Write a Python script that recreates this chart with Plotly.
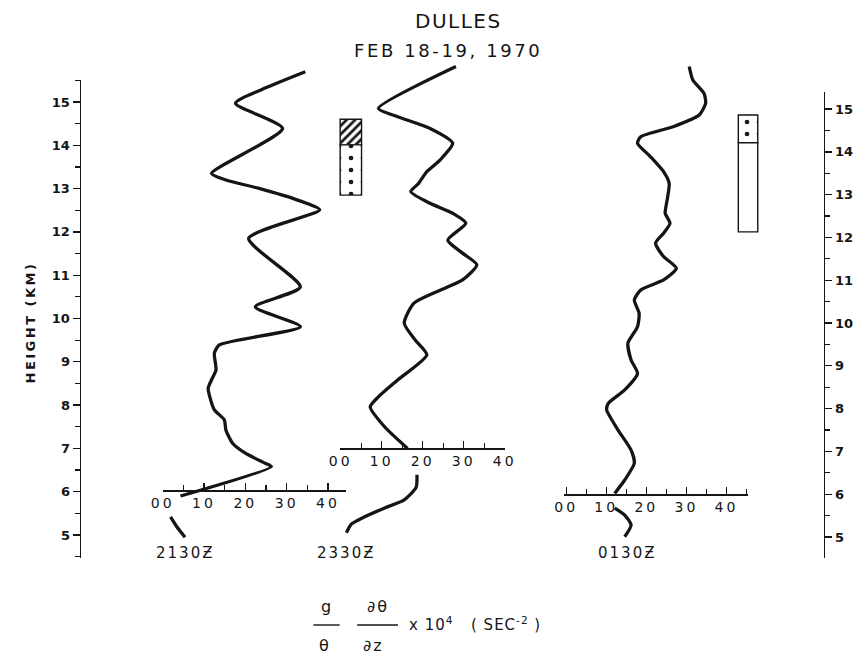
import plotly.graph_objects as go

W, H = 867, 659

# Brunt-Vaisala profiles g/theta * dtheta/dz (x 1e-4 s^-2) against height (km), top to bottom
h_2130 = [15.70, 15.35, 14.97, 14.39, 13.35, 13.20, 13.01, 12.74, 12.51, 11.85, 10.73, 10.27,
          9.81, 9.39, 9.20, 8.81, 8.58, 8.39, 8.19, 7.89, 7.66, 7.42, 7.12, 6.89, 6.66, 6.58, 5.90]
v_2130 = [34.5, 25.5, 17.6, 29.0, 11.8, 15.3, 23.1, 32.5, 38.0, 20.8, 33.3, 22.4,
          33.3, 13.7, 12.5, 12.9, 11.8, 11.0, 11.4, 12.5, 14.9, 15.3, 16.9, 20.0, 24.7, 26.3, 4.3]
h_2130_low = [5.42, 5.18, 4.95]
v_2130_low = [1.9, 3.5, 5.4]

h_2330 = [15.82, 14.85, 14.66, 14.39, 14.05, 13.66, 13.39, 13.12, 12.93, 12.66, 12.43, 12.20,
          11.81, 11.51, 11.24, 10.89, 10.62, 10.35, 9.89, 9.50, 9.16, 8.58, 8.19, 7.96, 7.50, 7.00]
v_2330 = [28.1, 9.2, 13.9, 21.8, 27.3, 24.2, 21.0, 19.0, 17.1, 21.8, 27.3, 30.5,
          26.1, 29.7, 33.2, 29.7, 23.4, 17.8, 15.5, 18.2, 21.0, 13.9, 9.2, 7.2, 10.7, 16.3]
h_2330_low = [6.39, 6.10, 5.81, 5.62, 5.40, 5.25, 5.05]
v_2330_low = [18.6, 18.4, 15.5, 10.6, 5.4, 2.6, 1.4]

h_0130 = [15.82, 15.51, 15.20, 14.97, 14.70, 14.43, 14.20, 14.05, 13.74, 13.39, 13.12, 12.74,
          12.43, 12.20, 11.97, 11.74, 11.43, 11.16, 10.89, 10.66, 10.43, 10.12, 9.81, 9.43,
          9.04, 8.73, 8.35, 8.04, 7.89, 7.43, 6.96, 6.66, 6.27, 5.96]
v_0130 = [30.7, 31.6, 34.4, 34.8, 33.2, 26.7, 18.6, 17.8, 21.0, 24.3, 25.7, 25.2,
          24.7, 25.9, 24.3, 22.3, 24.3, 27.5, 24.3, 18.6, 17.0, 18.2, 17.8, 15.4,
          16.2, 17.8, 14.6, 10.5, 10.1, 12.9, 16.2, 17.0, 14.6, 12.1]
h_0130_low = [5.62, 5.46, 5.23, 4.96]
v_0130_low = [12.1, 14.6, 16.2, 14.6]

times = ["2130Ƶ", "2330Ƶ", "0130Ƶ"]

x_tick_vals = [0, 10, 20, 30, 40]
x_tick_text = ["00", "10", "20", "30", "40"]
height_ticks = list(range(5, 16))

# Cloud layers (bottom km, top km)
cloud_hatched = [(14.01, 14.60)]
cloud_dotted = [(12.85, 14.01), (14.06, 14.70)]
cloud_clear = [(12.00, 14.06)]

INK = "#151515"
FONT = "DejaVu Sans"
CLEAR = "rgba(0,0,0,0)"


def fx(px):
    return px / W


def fy(py):
    return 1 - py / H


def spaced(text, gap):
    return f'<span style="letter-spacing:{gap}px">{text}</span>'


# left and right height scales (pixel rows of the 15 km and 5 km marks)
left = dict(x=71, top=80, bottom=558, r15=102, r5=535)
right = dict(x=835, top=92, bottom=558, r15=109, r5=537)
# taller band with the left scale, so profiles may run past the drawn axis ends
profile_band = dict(left, top=40, bottom=600)


def km_range(ax):
    per_km = (ax["r5"] - ax["r15"]) / 10
    return [5 - (ax["bottom"] - ax["r5"]) / per_km, 15 + (ax["r15"] - ax["top"]) / per_km]


# profile value scales: pixel of zero, pixels per unit, span, row of the axis line
scales = [
    dict(zero=155, ppu=4.25, lo=155, hi=343, row=490),
    dict(zero=338, ppu=4.22, lo=337, hi=507, row=448),
    dict(zero=570, ppu=4.12, lo=568, hi=757, row=494),
]

profiles = [
    (h_2130, v_2130, h_2130_low, v_2130_low),
    (h_2330, v_2330, h_2330_low, v_2330_low),
    (h_0130, v_0130, h_0130_low, v_0130_low),
]

fig = go.Figure()

for i, (h, v, hl, vl) in enumerate(profiles):
    xa = "x" if i == 0 else f"x{i + 1}"
    fig.add_trace(go.Scatter(
        x=v + [None] + vl, y=h + [None] + hl, mode="lines",
        line=dict(color=INK, width=3.3, shape="spline", smoothing=0.6),
        xaxis=xa, yaxis="y6", showlegend=False, hoverinfo="skip", connectgaps=False,
    ))
    # empty trace tying each value axis to the row that carries its axis line
    fig.add_trace(go.Scatter(x=[None], y=[None], xaxis=xa, yaxis=f"y{i + 3}", mode="lines",
                             showlegend=False, hoverinfo="skip"))

# cloud boxes drawn as floating bars on a helper axis spanning the frame
frame_lo, frame_hi = left["x"], right["x"]


def fr(px):
    return (px - frame_lo) / (frame_hi - frame_lo)


box_x = [fr(348.5), fr(757)]
box_w = [22 / (frame_hi - frame_lo), 20 / (frame_hi - frame_lo)]


def cloud_bar(layers, xs, ws, pattern):
    marker = dict(color="white", line=dict(color=INK, width=1.4))
    if pattern:
        marker["pattern"] = pattern
    return go.Bar(
        x=xs, y=[t - b for b, t in layers], base=[b for b, t in layers], width=ws,
        xaxis="x4", yaxis="y", showlegend=False, hoverinfo="skip", marker=marker,
    )


fig.add_trace(cloud_bar(cloud_hatched, [box_x[0]], [box_w[0]],
                        dict(shape="/", fgcolor=INK, fgopacity=1, bgcolor="white",
                             size=6, solidity=0.45, fillmode="replace")))
fig.add_trace(cloud_bar(cloud_dotted, box_x, box_w,
                        dict(shape=".", fgcolor=INK, fgopacity=1, bgcolor="white",
                             size=12, solidity=0.12, fillmode="replace")))
fig.add_trace(cloud_bar(cloud_clear, [box_x[1]], [box_w[1]], None))
fig.add_trace(go.Scatter(x=[None], y=[None], xaxis="x4", yaxis="y2", mode="lines",
                         showlegend=False, hoverinfo="skip"))

tick_font = dict(family=FONT, size=14, color=INK)
layout_axes = {}
for i, s in enumerate(scales):
    key = "xaxis" if i == 0 else f"xaxis{i + 1}"
    r = [(s["lo"] - s["zero"]) / s["ppu"], (s["hi"] - s["zero"]) / s["ppu"]]
    layout_axes[key] = dict(
        domain=[fx(s["lo"]), fx(s["hi"])], range=r, anchor=f"y{i + 3}",
        showgrid=False, zeroline=False, showline=True, linecolor=INK, linewidth=1.5,
        tickmode="array", tickvals=x_tick_vals, ticktext=[spaced(t, 3) for t in x_tick_text],
        ticks="inside", ticklen=7, tickwidth=1.4, tickcolor=INK, tickfont=tick_font,
        minor=dict(dtick=5, tick0=0, ticks="inside", ticklen=5, tickwidth=1.2, tickcolor=INK),
        fixedrange=True,
    )
    layout_axes[f"yaxis{i + 3}"] = dict(
        domain=[fy(s["row"]), fy(s["row"]) + 0.01], range=[0, 1], visible=False,
        anchor=("x" if i == 0 else f"x{i + 1}"), fixedrange=True,
    )

layout_axes["xaxis4"] = dict(domain=[fx(frame_lo), fx(frame_hi)], range=[0, 1],
                             visible=False, anchor="y", fixedrange=True)

ytick_font = dict(family=FONT, size=13, color=INK, weight="bold")
common_y = dict(
    showgrid=False, zeroline=False, showline=True, linecolor=INK, linewidth=1.5,
    tickmode="array", tickvals=height_ticks, ticks="outside", ticklen=7, tickwidth=1.4,
    tickcolor=INK, tickfont=ytick_font,
    minor=dict(dtick=0.5, tick0=0, ticks="outside", ticklen=5, tickwidth=1.2, tickcolor=INK),
    fixedrange=True,
)
layout_axes["yaxis"] = dict(domain=[fy(left["bottom"]), fy(left["top"])],
                            range=km_range(left), anchor="x4", side="left", **common_y)
layout_axes["yaxis2"] = dict(domain=[fy(right["bottom"]), fy(right["top"])],
                             range=km_range(right), anchor="x4", side="right", **common_y)
layout_axes["yaxis6"] = dict(domain=[fy(profile_band["bottom"]), fy(profile_band["top"])],
                             range=km_range(profile_band), anchor="x4", visible=False,
                             fixedrange=True)

annotations = []


def text(s, x, y, size, gap=0, angle=0, xanchor="center", bold=False):
    annotations.append(dict(
        text=spaced(s, gap) if gap else s, x=fx(x), y=fy(y), xref="paper", yref="paper",
        showarrow=False, textangle=angle, xanchor=xanchor, yanchor="middle",
        font=dict(family=FONT, size=size, color=INK, weight="bold" if bold else "normal"),
    ))


text("DULLES", 459, 21, 20, 1.5)
text("FEB 18-19, 1970", 448, 50, 18, 2.6)
text("HEIGHT (KM)", 19, 322, 13, 2.5, -90, bold=True)
for label, cx in zip(times, [178, 344, 632]):
    text(label, cx, 553, 15, 2)

# x-axis quantity written as two stacked fractions
text("g", 323, 606, 16)
text("θ", 321, 645, 16)
text("∂θ", 376, 606, 16, 2)
text("∂z", 372, 645, 16, 2)
text("x 10<sup>4</sup>", 406, 624, 15, 1, xanchor="left")
text("( SEC<sup>-2</sup> )", 470, 624, 15, 1, xanchor="left")

shapes = [
    dict(type="line", xref="paper", yref="paper", x0=fx(310), x1=fx(337), y0=fy(625), y1=fy(625),
         line=dict(color=INK, width=1.4)),
    dict(type="line", xref="paper", yref="paper", x0=fx(355), x1=fx(397), y0=fy(625), y1=fy(625),
         line=dict(color=INK, width=1.4)),
]

fig.update_layout(
    width=W, height=H, margin=dict(l=0, r=0, t=0, b=0),
    paper_bgcolor="white", plot_bgcolor=CLEAR,
    barmode="overlay", bargap=0, hovermode=False, showlegend=False,
    annotations=annotations, shapes=shapes, **layout_axes,
)

fig.write_html("out.html", config=dict(displayModeBar=False, staticPlot=True))
